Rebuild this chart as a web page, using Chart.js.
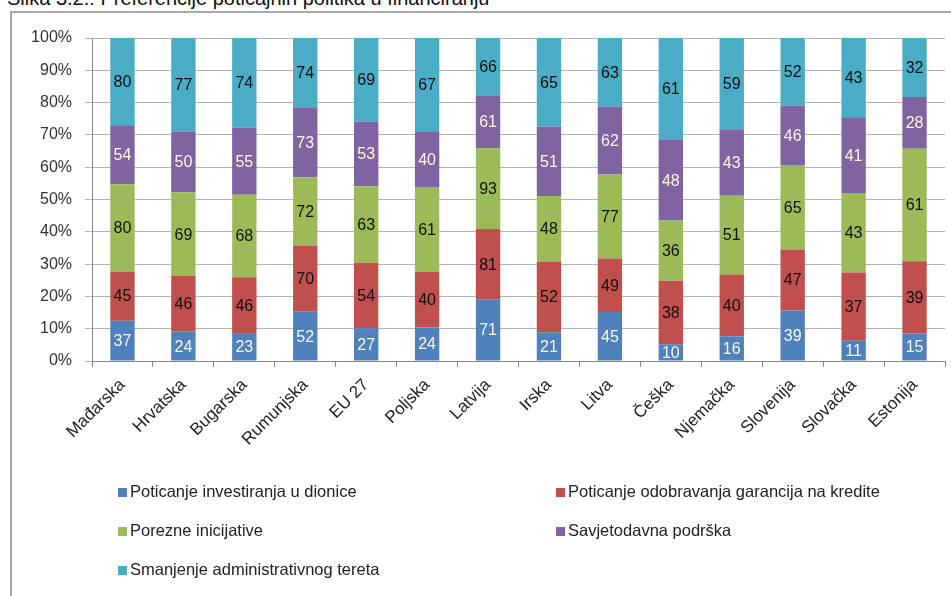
<!DOCTYPE html>
<html>
<head>
<meta charset="utf-8">
<script src="https://cdn.jsdelivr.net/npm/chart.js@4.4.0/dist/chart.umd.min.js"></script>
<style>
  html, body { margin: 0; padding: 0; background: #fff; }
  #wrap { position: relative; width: 951px; height: 596px; overflow: hidden; font-family: "Liberation Sans", Arial, sans-serif; }
  #title { position: absolute; left: 7px; top: -12px; font-size: 20px; line-height: 20px; color: #111; white-space: nowrap; }
  #frame { position: absolute; left: 10px; top: 11px; width: 960px; height: 600px; border-left: 2px solid #a8a8a8; border-top: 2px solid #a8a8a8; box-sizing: border-box; }
  #box { position: absolute; left: 0; top: 0; width: 951px; height: 596px; }
  .leg { position: absolute; font-size: 16.5px; color: #222; white-space: nowrap; }
  .leg i { display: inline-block; width: 9px; height: 9px; margin-right: 3px; vertical-align: 0px; }
</style>
</head>
<body>
<div id="wrap">
  <div id="title">Slika 3.2.: Preferencije poticajnih politika u financiranju</div>
  <div id="frame"></div>
  <div id="box"><canvas id="chart"></canvas></div>
  <div id="legend"></div>
</div>
<script>
'use strict';

// kategorije (zemlje)
const countries = ['Mađarska', 'Hrvatska', 'Bugarska', 'Rumunjska', 'EU 27', 'Poljska', 'Latvija',
  'Irska', 'Litva', 'Češka', 'Njemačka', 'Slovenija', 'Slovačka', 'Estonija'];

// serije
const seriesNames = ['Poticanje investiranja u dionice', 'Poticanje odobravanja garancija na kredite',
  'Porezne inicijative', 'Savjetodavna podrška', 'Smanjenje administrativnog tereta'];
const dionice = [37, 24, 23, 52, 27, 24, 71, 21, 45, 10, 16, 39, 11, 15];
const garancije = [45, 46, 46, 70, 54, 40, 81, 52, 49, 38, 40, 47, 37, 39];
const porezne = [80, 69, 68, 72, 63, 61, 93, 48, 77, 36, 51, 65, 43, 61];
const savjeti = [54, 50, 55, 73, 53, 40, 61, 51, 62, 48, 43, 46, 41, 28];
const administracija = [80, 77, 74, 74, 69, 67, 66, 65, 63, 61, 59, 52, 43, 32];

const colors = ['#4F81BD', '#C0504D', '#9BBB59', '#8064A2', '#4BACC6'];
const labelColors = ['#fbf6dc', '#111', '#111', '#fbf6dc', '#111'];

const raw = [dionice, garancije, porezne, savjeti, administracija];
const totals = countries.map((c, i) => raw.reduce((s, arr) => s + arr[i], 0));

// data labels u sredini segmenta
const valueLabels = {
  id: 'valueLabels',
  afterDatasetsDraw(chart) {
    const ctx = chart.ctx;
    ctx.save();
    ctx.font = '16px "Liberation Sans", Arial, sans-serif';
    ctx.textAlign = 'center';
    ctx.textBaseline = 'middle';
    chart.data.datasets.forEach((ds, di) => {
      const meta = chart.getDatasetMeta(di);
      meta.data.forEach((bar, i) => {
        ctx.fillStyle = labelColors[di];
        ctx.fillText(raw[di][i], bar.x, (bar.y + bar.base) / 2 + 1);
      });
    });
    ctx.restore();
  }
};

new Chart(document.getElementById('chart'), {
  type: 'bar',
  data: {
    labels: countries,
    datasets: raw.map((arr, di) => ({
      label: seriesNames[di],
      data: arr.map((v, i) => v / totals[i] * 100),
      backgroundColor: colors[di],
      borderWidth: 0,
      categoryPercentage: 1,
      barPercentage: 0.4
    }))
  },
  options: {
    responsive: true,
    maintainAspectRatio: false,
    animation: false,
    layout: { padding: { top: 38, right: 6, bottom: 0, left: 0 } },
    scales: {
      x: {
        stacked: true,
        grid: { display: true, drawOnChartArea: false, color: '#888', tickLength: 6, offset: true },
        border: { color: '#888' },
        ticks: {
          color: '#222',
          font: { size: 17, family: '"Liberation Sans", Arial, sans-serif' },
          minRotation: 45,
          maxRotation: 45,
          autoSkip: false,
          padding: 8
        },
        afterFit(scale) { scale.height = 235; }
      },
      y: {
        stacked: true,
        min: 0,
        max: 100,
        grid: { color: '#b4b4b4', tickLength: 7 },
        border: { color: '#888' },
        ticks: {
          stepSize: 10,
          color: '#333',
          padding: 13,
          font: { size: 16, family: '"Liberation Sans", Arial, sans-serif' },
          callback: (v) => v + '%'
        },
        afterFit(scale) { scale.width = 92; }
      }
    },
    plugins: {
      legend: { display: false },
      tooltip: { enabled: false }
    }
  },
  plugins: [valueLabels]
});

// legenda u dva stupca
const legendPos = [[118, 482], [556, 482], [118, 521], [556, 521], [118, 560]];
const legend = document.getElementById('legend');
seriesNames.forEach((name, i) => {
  const d = document.createElement('div');
  d.className = 'leg';
  d.style.left = legendPos[i][0] + 'px';
  d.style.top = legendPos[i][1] + 'px';
  d.innerHTML = '<i style="background:' + colors[i] + '"></i>' + name;
  legend.appendChild(d);
});
</script>
</body>
</html>
